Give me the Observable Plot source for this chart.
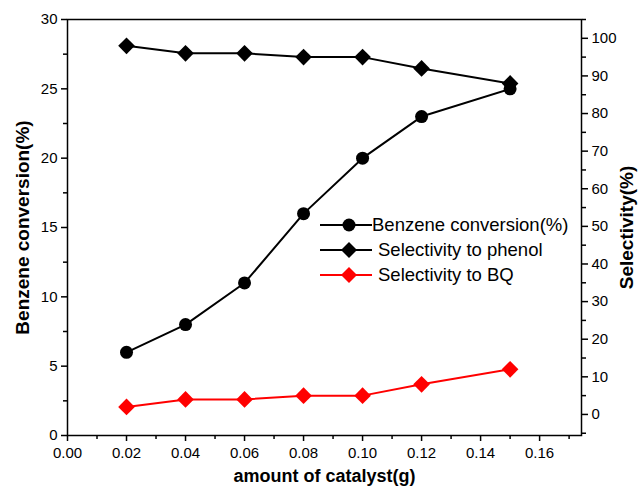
<!DOCTYPE html>
<html><head><meta charset="utf-8">
<script src="https://cdn.jsdelivr.net/npm/d3@7"></script>
<script src="https://cdn.jsdelivr.net/npm/@observablehq/plot@0.6"></script>
<style>
body{margin:0;background:#fff;font-family:"Liberation Sans",Arial,sans-serif}
#wrap{position:relative;width:640px;height:489px}
g[aria-label="x-axis label"] text{font-weight:bold;font-size:18px}
g[aria-label="y-axis label"] text{font-weight:bold;font-size:19px}
#legend{position:absolute;left:320px;top:212px;font-size:18.5px;color:#000}
#legend .row{display:flex;align-items:center;height:25px;white-space:nowrap}
#legend svg{flex:none}
</style></head><body><div id="wrap"><div id="chart"></div>
<div id="legend"></div></div>
<script>
const catalyst = [0.02, 0.04, 0.06, 0.08, 0.10, 0.12, 0.15];
const conversion = [6, 8, 11, 16, 20, 23, 25];
const selPhenol = [98, 96, 96, 95, 95, 92, 88];
const selBQ = [2, 4, 4, 5, 5, 8, 12];
const seriesNames = ["Benzene conversion(%)", "Selectivity to phenol", "Selectivity to BQ"];
const xTicks = [0, 0.02, 0.04, 0.06, 0.08, 0.10, 0.12, 0.14, 0.16];
const xMinor = [0.01, 0.03, 0.05, 0.07, 0.09, 0.11, 0.13, 0.15, 0.17];
const leftTicks = [0, 5, 10, 15, 20, 25, 30];
const leftMinor = [2.5, 7.5, 12.5, 17.5, 22.5, 27.5];
const rightTicks = [0, 10, 20, 30, 40, 50, 60, 70, 80, 90, 100];
const rightMinor = [-5, 5, 15, 25, 35, 45, 55, 65, 75, 85, 95, 105];

const leftDomain = [0, 30];
const rightDomain = [-5.6, 105];
const toLeft = v => leftDomain[0] + (v - rightDomain[0]) / (rightDomain[1] - rightDomain[0]) * (leftDomain[1] - leftDomain[0]);
const fromLeft = v => rightDomain[0] + (v - leftDomain[0]) / (leftDomain[1] - leftDomain[0]) * (rightDomain[1] - rightDomain[0]);

const conv = catalyst.map((x, i) => ({x, y: conversion[i]}));
const phen = catalyst.map((x, i) => ({x, y: toLeft(selPhenol[i])}));
const bq = catalyst.map((x, i) => ({x, y: toLeft(selBQ[i])}));

const chart = Plot.plot({
  width: 640, height: 489,
  marginLeft: 67, marginRight: 59, marginTop: 19, marginBottom: 54,
  style: {fontFamily: "Liberation Sans, Arial, sans-serif", fontSize: "15px", color: "#000", background: "#fff"},
  x: {domain: [0, 0.1742]},
  y: {domain: leftDomain},
  marks: [
    Plot.axisX({ticks: xTicks, tickFormat: d => d.toFixed(2), tickSize: 6, tickPadding: 6, strokeWidth: 1.5, label: "amount of catalyst(g)", labelAnchor: "center", labelArrow: "none", labelOffset: 46}),
    Plot.axisX({ticks: xMinor, tickSize: 4, strokeWidth: 1.5, text: null, label: null}),
    Plot.axisY({ticks: leftTicks, tickSize: 6, tickPadding: 4, strokeWidth: 1.5, label: "Benzene conversion(%)", labelAnchor: "center", labelArrow: "none", labelOffset: 52}),
    Plot.axisY({ticks: leftMinor, tickSize: 4, strokeWidth: 1.5, text: null, label: null}),
    Plot.axisY({anchor: "right", ticks: rightTicks.map(toLeft), tickFormat: d => Math.round(fromLeft(d)), tickSize: 6, tickPadding: 4, strokeWidth: 1.5, label: "Selectivity(%)", labelAnchor: "center", labelArrow: "none", labelOffset: 51}),
    Plot.axisY({anchor: "right", ticks: rightMinor.map(toLeft), tickSize: 4, strokeWidth: 1.5, text: null, label: null}),
    Plot.frame({stroke: "#000", strokeWidth: 1.5}),
    Plot.line(conv, {x: "x", y: "y", stroke: "#000", strokeWidth: 2}),
    Plot.line(phen, {x: "x", y: "y", stroke: "#000", strokeWidth: 2}),
    Plot.line(bq, {x: "x", y: "y", stroke: "#ff0000", strokeWidth: 2}),
    Plot.dot(conv, {x: "x", y: "y", r: 6.5, fill: "#000", stroke: "none"}),
    Plot.dot(phen, {x: "x", y: "y", r: 7.5, symbol: "diamond2", fill: "#000", stroke: "none"}),
    Plot.dot(bq, {x: "x", y: "y", r: 7.5, symbol: "diamond2", fill: "#ff0000", stroke: "none"})
  ]
});
document.getElementById("chart").appendChild(chart);

const legendItems = [
  {name: seriesNames[0], color: "#000", sym: "circle", gap: 0},
  {name: seriesNames[1], color: "#000", sym: "diamond", gap: 6},
  {name: seriesNames[2], color: "#ff0000", sym: "diamond", gap: 6}
];
const legend = document.getElementById("legend");
for (const it of legendItems) {
  const row = document.createElement("div");
  row.className = "row";
  const shape = it.sym === "circle"
    ? `<circle cx="29" cy="11" r="6.5" fill="${it.color}"/>`
    : `<path d="M29,3 L37,11 L29,19 L21,11 Z" fill="${it.color}"/>`;
  row.innerHTML = `<svg width="52" height="22"><line x1="0" x2="52" y1="11" y2="11" stroke="${it.color}" stroke-width="2"/>${shape}</svg><span style="margin-left:${it.gap}px">${it.name}</span>`;
  legend.appendChild(row);
}
</script></body></html>
